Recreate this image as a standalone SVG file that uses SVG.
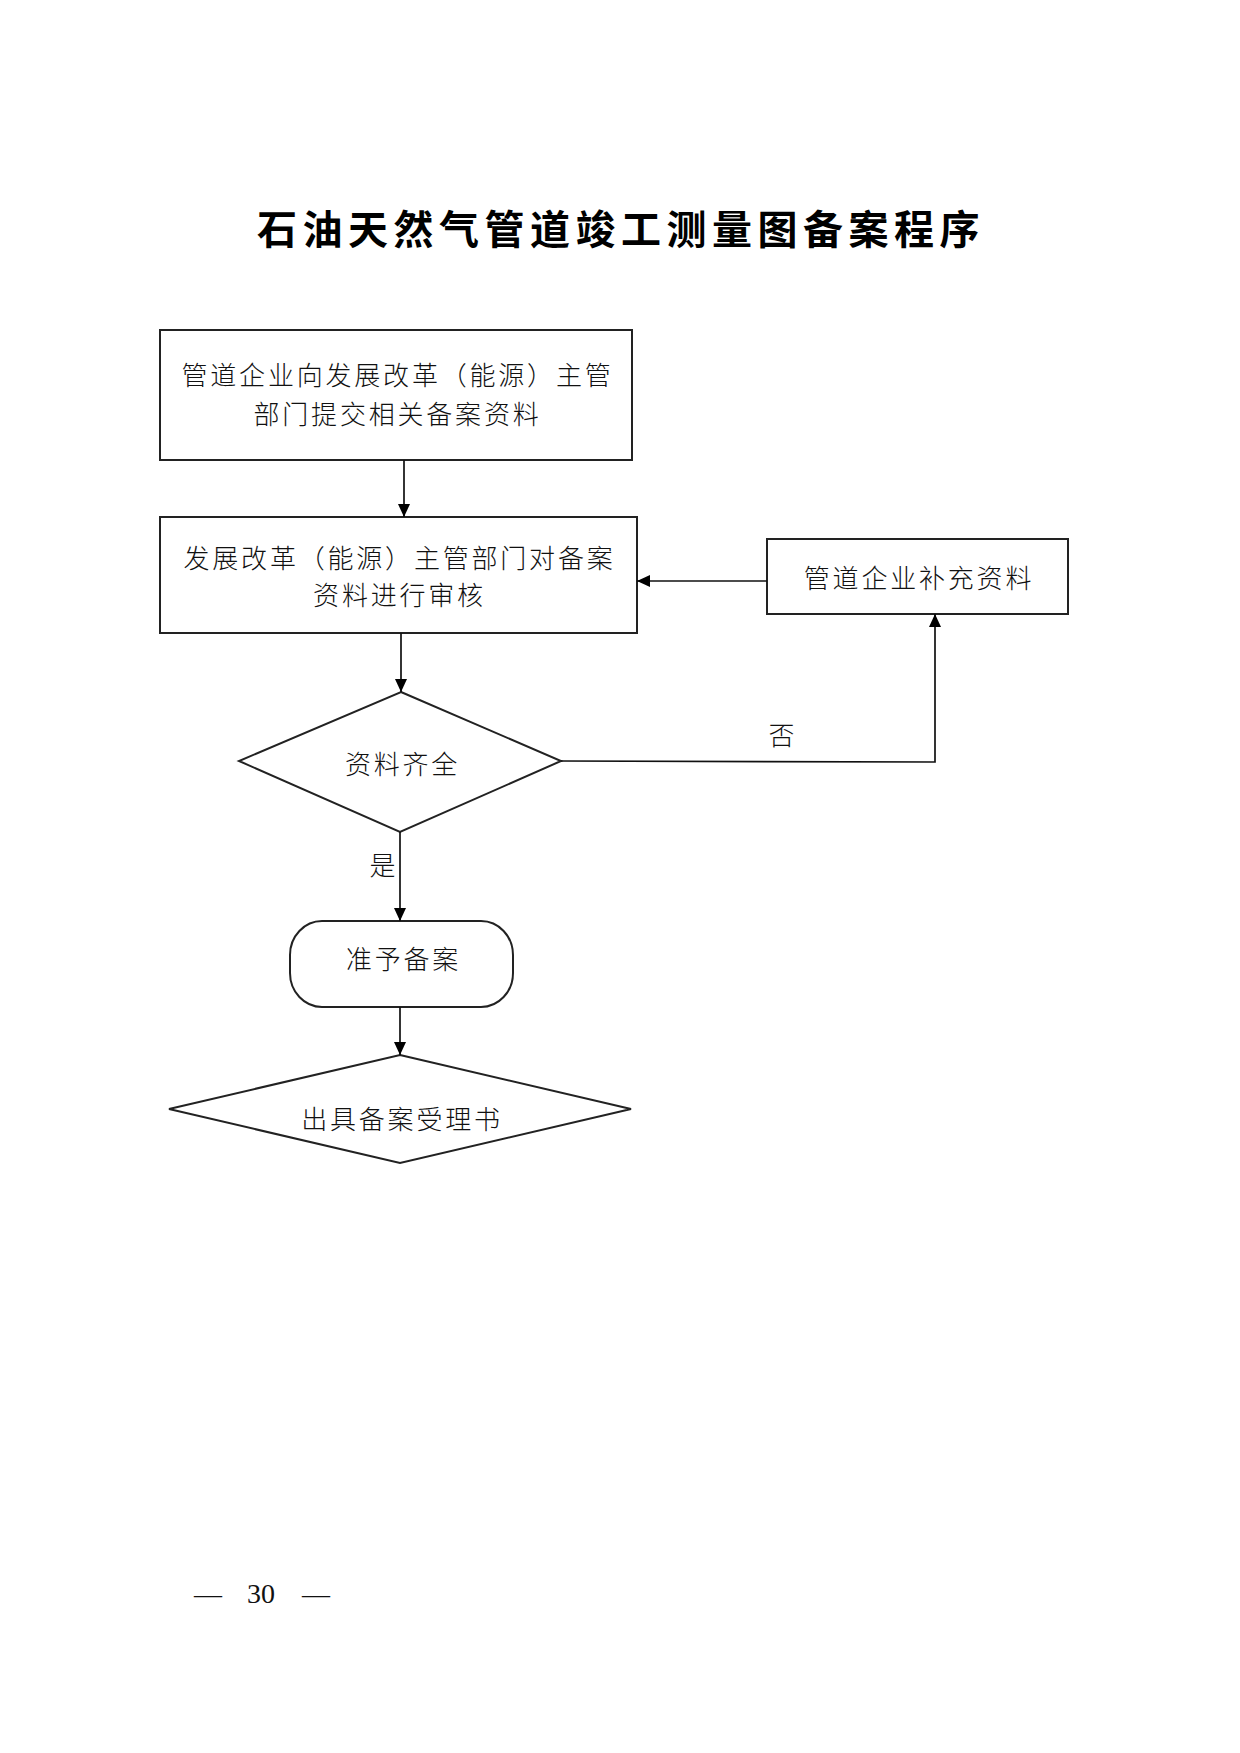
<svg xmlns="http://www.w3.org/2000/svg" width="1240" height="1753" viewBox="0 0 1240 1753">
<style>
.shape{fill:#fff;stroke:#222;stroke-width:2}
.conn{fill:none;stroke:#111;stroke-width:1.7}
.t{font-family:"Noto Sans CJK SC","Liberation Serif",sans-serif;font-weight:300;font-size:26px;letter-spacing:2.8px;fill:#111;text-anchor:middle}
.title{font-family:"Noto Sans CJK SC",sans-serif;font-weight:700;font-size:40px;letter-spacing:5.5px;fill:#000}
.pg{font-family:"Liberation Serif",serif;font-size:28px;fill:#111}
</style>
<defs>
<marker id="arr" markerUnits="userSpaceOnUse" markerWidth="13" markerHeight="12" refX="13" refY="6" orient="auto">
<path d="M0,0 L13,6 L0,12 z" fill="#000"/>
</marker>
</defs>
<rect width="1240" height="1753" fill="#fff"/>
<text class="title" x="257" y="244">石油天然气管道竣工测量图备案程序</text>

<g id="n1">
<rect class="shape" x="160" y="330" width="472" height="130"/>
<text class="t" x="397.5" y="385">管道企业向发展改革（能源）主管</text>
<text class="t" x="397.5" y="423.5">部门提交相关备案资料</text>
</g>
<g id="n2">
<rect class="shape" x="160" y="517" width="477" height="116"/>
<text class="t" x="399.5" y="567.5">发展改革（能源）主管部门对备案</text>
<text class="t" x="399.5" y="604.5">资料进行审核</text>
</g>
<g id="n3">
<rect class="shape" x="767" y="539" width="301" height="75"/>
<text class="t" x="919" y="587.5">管道企业补充资料</text>
</g>
<g id="n4">
<polygon class="shape" points="401,692 561,761 400,832 239,761"/>
<text class="t" x="402.5" y="773.5">资料齐全</text>
</g>
<g id="n5">
<rect class="shape" x="290" y="921" width="223" height="86" rx="32" ry="34"/>
<text class="t" x="403.5" y="969">准予备案</text>
</g>
<g id="n6">
<polygon class="shape" points="400,1055 631,1109 400,1163 169,1109"/>
<text class="t" x="402" y="1129">出具备案受理书</text>
</g>

<g id="connectors">
<line class="conn" x1="404" y1="460" x2="404" y2="517" marker-end="url(#arr)"/>
<line class="conn" x1="767" y1="581" x2="637" y2="581" marker-end="url(#arr)"/>
<line class="conn" x1="401" y1="633" x2="401" y2="692" marker-end="url(#arr)"/>
<polyline class="conn" points="561,761 935,762 935,614" marker-end="url(#arr)"/>
<line class="conn" x1="400" y1="832" x2="400" y2="921" marker-end="url(#arr)"/>
<line class="conn" x1="400" y1="1007" x2="400" y2="1055" marker-end="url(#arr)"/>
<text class="t" x="783" y="745">否</text>
<text class="t" x="384" y="874.5">是</text>
</g>

<text class="pg" x="194" y="1603">—</text>
<text class="pg" x="247" y="1603">30</text>
<text class="pg" x="302" y="1603">—</text>
</svg>
